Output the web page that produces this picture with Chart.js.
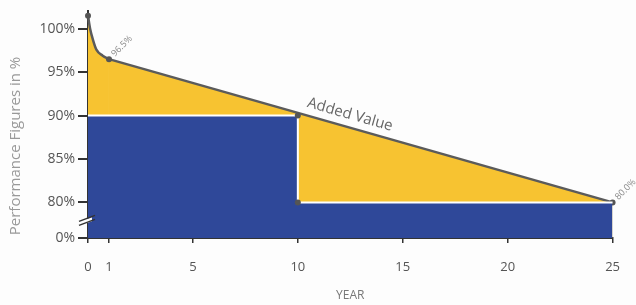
<!DOCTYPE html>
<html>
<head>
<meta charset="utf-8">
<script src="https://cdn.jsdelivr.net/npm/chart.js@4.4.1/dist/chart.umd.min.js"></script>
<style>
  html, body { margin: 0; padding: 0; background: #fdfdfd; }
  #wrap { width: 636px; height: 305px; }
</style>
</head>
<body>
<div id="wrap"><canvas id="perfChart" width="636" height="305"></canvas></div>
<script>
// First-year drop (year, %)
const curveYears  = [0, 0.1, 0.24, 0.4, 0.7, 1];
const curveValues = [101.5, 100.0, 98.7, 97.6, 96.9, 96.5];
const curveDots   = [3, 0, 0, 0, 0, 3];

// Linear degradation after year 1
const slopeYears  = [1, 25];
const slopeValues = [96.5, 80.0];
const slopeDots   = [0, 3];

// Guaranteed step (blue area)
const stepYears  = [0, 10, 10, 25];
const stepValues = [90, 90, 80, 80];
const stepDots   = [0, 3, 3, 0];

// Axis ticks
const xTickValues = [0, 1, 5, 10, 15, 20, 25];
const yTickValues = [0, 80, 85, 90, 95, 100];
const yTickLabels = ['0%', '80%', '85%', '90%', '95%', '100%'];
const axisBase = 75.9;   // where the broken axis puts "0%"
const breakAt = 77.7;

// Value labels on the curve
const pointLabelYears  = [1, 25];
const pointLabelValues = [96.5, 80.0];
const pointLabelTexts  = ['96.5%', '80.0%'];

const FONT = "'Open Sans', 'DejaVu Sans', sans-serif";

const toPoints = (xs, ys) => xs.map((x, i) => ({x: x, y: ys[i]}));

// Extra drawing: axis titles, labels, axis break
const extras = {
    id: 'extras',
    afterDraw(chart) {
        const ctx = chart.ctx;
        const xs = chart.scales.x, ys = chart.scales.y;
        ctx.save();

        // axis break on the y axis
        const bx = xs.left, by = ys.getPixelForValue(breakAt);
        ctx.fillStyle = '#fdfdfd';
        ctx.beginPath();
        ctx.moveTo(bx - 4, by + 2); ctx.lineTo(bx + 4, by - 1);
        ctx.lineTo(bx + 4, by - 5); ctx.lineTo(bx - 4, by - 2);
        ctx.closePath(); ctx.fill();
        ctx.strokeStyle = '#333'; ctx.lineWidth = 1.5;
        [0, -4].forEach(d => {
            ctx.beginPath();
            ctx.moveTo(bx - 9, by + 3 + d);
            ctx.lineTo(bx + 7, by - 3 + d);
            ctx.stroke();
        });

        // y title
        ctx.fillStyle = '#999';
        ctx.font = '15px ' + FONT;
        ctx.textAlign = 'center'; ctx.textBaseline = 'middle';
        ctx.translate(16, 146);
        ctx.rotate(-Math.PI / 2);
        ctx.fillText('Performance Figures in %', 0, 0);
        ctx.setTransform(1, 0, 0, 1, 0, 0);

        // x title
        ctx.fillStyle = '#777';
        ctx.font = '12px ' + FONT;
        ctx.fillText('YEAR', (xs.left + xs.right) / 2, 296);

        // point labels
        ctx.fillStyle = '#888';
        ctx.font = '9px ' + FONT;
        ctx.textAlign = 'left';
        pointLabelTexts.forEach((t, i) => {
            const px = xs.getPixelForValue(pointLabelYears[i]);
            const py = ys.getPixelForValue(pointLabelValues[i]);
            ctx.save();
            ctx.translate(px + 4, py - 4);
            ctx.rotate(-Math.PI / 4);
            ctx.fillText(t, 0, 0);
            ctx.restore();
        });

        // "Added Value" along the slope
        const x1 = xs.getPixelForValue(slopeYears[0]), y1 = ys.getPixelForValue(slopeValues[0]);
        const x2 = xs.getPixelForValue(slopeYears[1]), y2 = ys.getPixelForValue(slopeValues[1]);
        const ang = Math.atan2(y2 - y1, x2 - x1);
        const t = (350 - x1) / (x2 - x1);
        ctx.save();
        ctx.translate(350, y1 + t * (y2 - y1) - 13);
        ctx.rotate(ang);
        ctx.fillStyle = '#666';
        ctx.font = '15px ' + FONT;
        ctx.textAlign = 'center';
        ctx.fillText('Added Value', 0, 0);
        ctx.restore();

        ctx.restore();
    }
};

const lineStyle = {
    borderColor: '#5b5b5b',
    borderWidth: 2.5,
    backgroundColor: '#f7c331',
    fill: 'start',
    pointBackgroundColor: '#555',
    pointBorderWidth: 0,
    clip: false
};

new Chart(document.getElementById('perfChart'), {
    type: 'line',
    data: {
        datasets: [{
            label: 'Guaranteed',
            data: toPoints(stepYears, stepValues),
            borderColor: '#ffffff',
            borderWidth: 2,
            backgroundColor: '#2f4899',
            fill: 'start',
            tension: 0,
            pointRadius: stepDots,
            pointBackgroundColor: '#555',
            pointBorderWidth: 0,
            clip: false
        },
        Object.assign({
            label: 'First year',
            data: toPoints(curveYears, curveValues),
            cubicInterpolationMode: 'monotone',
            pointRadius: curveDots
        }, lineStyle),
        Object.assign({
            label: 'Linear',
            data: toPoints(slopeYears, slopeValues),
            tension: 0,
            pointRadius: slopeDots
        }, lineStyle)]
    },
    options: {
        responsive: false,
        animation: false,
        layout: { padding: { top: 9, right: 23, left: 0, bottom: 0 } },
        plugins: { legend: { display: false }, tooltip: { enabled: false } },
        scales: {
            x: {
                type: 'linear', min: 0, max: 25,
                afterBuildTicks: s => { s.ticks = xTickValues.map(v => ({value: v})); },
                afterFit: s => { s.height = 67; },
                ticks: { color: '#555', font: { family: FONT, size: 13 }, padding: 16 },
                grid: { drawOnChartArea: false, tickLength: 5, color: '#333', lineWidth: 1.5 },
                border: { color: '#333', width: 2 }
            },
            y: {
                type: 'linear', min: axisBase, max: 102,
                afterBuildTicks: s => {
                    s.ticks = yTickValues.map(v => ({value: v === 0 ? axisBase : v}));
                },
                afterFit: s => { s.width = 88; },
                ticks: {
                    color: '#555', font: { family: FONT, size: 14 }, padding: 3,
                    callback: (v, i) => yTickLabels[i]
                },
                grid: { drawOnChartArea: false, tickLength: 10, color: '#333', lineWidth: 2 },
                border: { color: '#333', width: 2 }
            }
        }
    },
    plugins: [extras]
});
</script>
</body>
</html>
